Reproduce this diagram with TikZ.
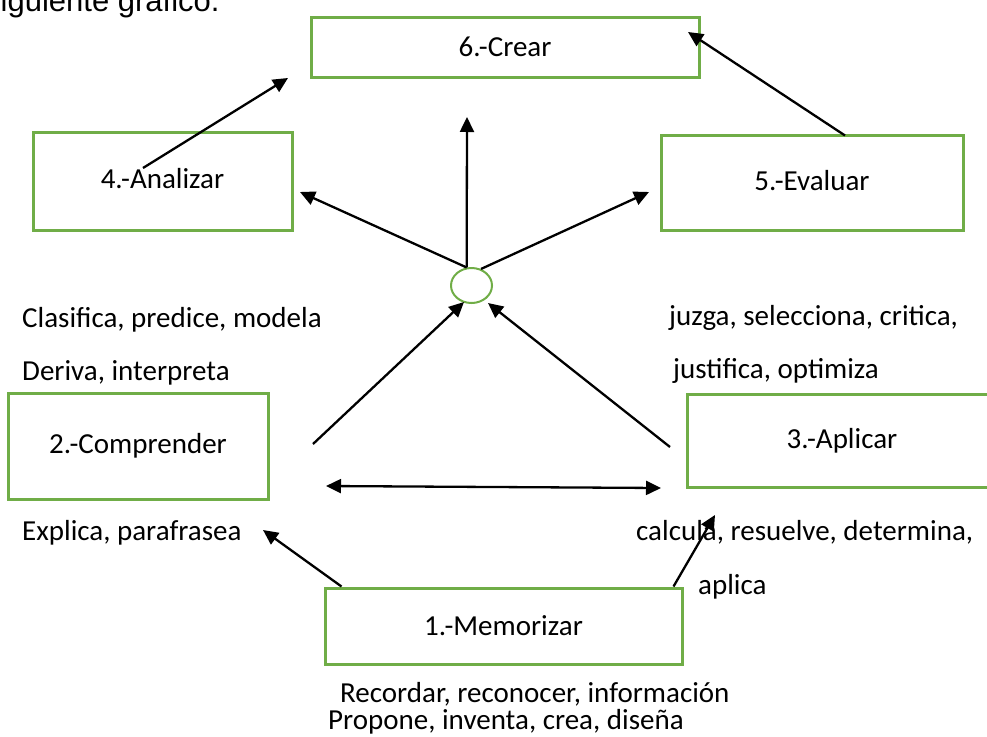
\documentclass[tikz,border=0pt]{standalone}
\usepackage{fontspec}
\setmainfont{Carlito}
\newfontfamily\arialfont{Liberation Sans}
\usetikzlibrary{arrows.meta}
\usetikzlibrary{shapes.geometric}
\usetikzlibrary{calc}
\definecolor{verde}{RGB}{112,173,71}
\tikzset{
  caja/.style={draw=verde, line width=3pt, inner sep=0pt},
  flecha/.style={line width=2.3pt, -{Triangle[length=15pt,width=14pt]}},
  doble/.style={line width=2.3pt, {Triangle[length=15pt,width=14pt]}-{Triangle[length=15pt,width=14pt]}},
  texto/.style={anchor=base west, inner sep=0pt}
}

\begin{document}
\begin{tikzpicture}[x=1pt,y=-1pt,font=\fontsize{29}{35}\selectfont]
	\useasboundingbox (0,0) rectangle (987,736);
	\clip (0,0) rectangle (987,736);
	\node[texto,font=\arialfont\fontsize{31}{36}\selectfont] (titulo) at (-15,12) {siguiente gráfico.};
	% cajas
	\node[caja,minimum width=388pt,minimum height=60pt] (crear) at (505,47) {\raisebox{-5pt}{6.-Crear}};
	\node[caja,minimum width=259pt,minimum height=98pt] (analizar) at (162.5,181) {\raisebox{5pt}{4.-Analizar}};
	\node[caja,minimum width=302pt,minimum height=95pt] (evaluar) at (812,182.5) {\raisebox{4pt}{5.-Evaluar}};
	\node[caja,minimum width=260pt,minimum height=106pt] (comprender) at (138,446) {\raisebox{3pt}{2.-Comprender}};
	\node[caja,minimum width=310pt,minimum height=93pt] (aplicar) at (842,440.5) {3.-Aplicar};
	\node[caja,minimum width=357pt,minimum height=76pt] (memorizar) at (503.5,626) {1.-Memorizar};
	\node[ellipse,draw=verde,line width=2pt,minimum width=41pt,minimum height=35pt,inner sep=0pt] (nodo) at (471.5,285.5) {};
	% textos
	\node[texto] (clasifica) at (22,327) {Clasifica, predice, modela};
	\node[texto] (deriva) at (22,380) {Deriva, interpreta};
	\node[texto] (explica) at (22,540) {Explica, parafrasea};
	\node[texto] (juzga) at (669,325) {juzga, selecciona, critica,};
	\node[texto] (justifica) at (673,378) {justifica, optimiza};
	\node[texto] (calcula) at (636,540) {calcula, resuelve, determina,};
	\node[texto] (aplica) at (698,594) {aplica};
	\node[texto] (recordar) at (340,702) {Recordar, reconocer, información};
	\node[texto] (propone) at (328,729) {Propone, inventa, crea, diseña};
	% extremos libres
	\coordinate (anaIni) at (143,168);
	\coordinate (creaIzq) at (288,78);
	\coordinate (creaDer) at (688,32);
	\coordinate (creaInf) at (467,117);
	\coordinate (anaDer) at (300,192);
	\coordinate (evaIzq) at (649,192);
	\coordinate (comIni) at (313,444);
	\coordinate (nodoIzq) at (464,302);
	\coordinate (apIni) at (670,447);
	\coordinate (nodoDer) at (488,303);
	\coordinate (comDer) at (326,486);
	\coordinate (apIzq) at (661,488);
	\coordinate (comInf) at (263,530);
	\coordinate (apInf) at (715,515);
	% flechas
	\draw[flecha] (anaIni) -- (creaIzq);
	\draw[flecha] ($(evaluar.north)+(33,2)$) -- (creaDer);
	\draw[flecha] (nodo.105) -- (creaInf);
	\draw[flecha] (nodo.105) -- (anaDer);
	\draw[flecha] (nodo.60) -- (evaIzq);
	\draw[flecha] (comIni) -- (nodoIzq);
	\draw[flecha] (apIni) -- (nodoDer);
	\draw[doble] (comDer) -- (apIzq);
	\draw[flecha] ($(memorizar.north west)+(18,0)$) -- (comInf);
	\draw[flecha] ($(memorizar.north east)+(-10,0)$) -- (apInf);
\end{tikzpicture}
\end{document}
